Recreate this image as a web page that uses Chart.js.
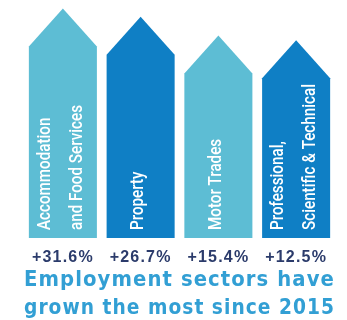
<!DOCTYPE html>
<html>
<head>
<meta charset="utf-8">
<title>Employment sectors</title>
<script src="https://cdn.jsdelivr.net/npm/chart.js@4/dist/chart.umd.min.js"></script>
<style>
  html, body { margin: 0; padding: 0; background: #ffffff; }
  canvas { display: block; }
</style>
</head>
<body>
<canvas id="chart" width="347" height="320"></canvas>
<script>
// Sector names (one entry per line of the label written up each arrow)
const sectors = [
  ['Accommodation', 'and Food Services'],
  ['Property'],
  ['Motor Trades'],
  ['Professional,', 'Scientific & Technical']
];
// Employment growth since 2015, per cent
const growth = [31.6, 26.7, 15.4, 12.5];
const titleLines = ['Employment sectors have', 'grown the most since 2015'];

const LIGHT = '#5dbdd4';
const DARK = '#0f7fc5';
const VALUE_COLOR = '#2b3b6b';
const TITLE_COLOR = '#329fd4';
const AXIS_FLOOR = -106.3;   // arrows rise from here on the (hidden) value axis
const AXIS_TOP = 36.7;
const HEAD = 38;             // height of each arrow head in pixels

// Draws every bar as an upward arrow and writes the sector name inside it
const arrowBars = {
  id: 'arrowBars',
  beforeDraw(chart) { chart.ctx.letterSpacing = '1.2px'; },
  afterDraw(chart) { chart.ctx.letterSpacing = '0px'; },
  beforeDatasetDraw() { return false; },
  afterDatasetsDraw(chart) {
    const ctx = chart.ctx;
    const meta = chart.getDatasetMeta(0);
    meta.data.forEach((el, i) => {
      const { x, y, base, width } = el.getProps(['x', 'y', 'base', 'width'], true);
      const left = x - width / 2;
      const right = x + width / 2;
      const shoulder = y + HEAD;
      ctx.save();
      ctx.letterSpacing = '0px';
      ctx.fillStyle = el.options.backgroundColor;
      ctx.beginPath();
      ctx.moveTo(left, base);
      ctx.lineTo(left, shoulder);
      ctx.lineTo(x, y);
      ctx.lineTo(right, shoulder);
      ctx.lineTo(right, base);
      ctx.closePath();
      ctx.fill();

      const lines = sectors[i];
      const gap = 32;
      ctx.fillStyle = '#ffffff';
      ctx.font = '500 19px Roboto, "Liberation Sans", sans-serif';
      ctx.textAlign = 'left';
      ctx.textBaseline = 'middle';
      lines.forEach((line, j) => {
        const offset = (j - (lines.length - 1) / 2) * gap - 2;
        ctx.save();
        ctx.translate(x + offset, base - 8);
        ctx.rotate(-Math.PI / 2);
        ctx.scale(0.8, 1);
        ctx.fillText(line, 0, 0);
        ctx.restore();
      });
      ctx.restore();
    });
  }
};

new Chart(document.getElementById('chart'), {
  type: 'bar',
  data: {
    labels: sectors,
    datasets: [{
      data: growth,
      backgroundColor: growth.map((_, i) => (i % 2 ? DARK : LIGHT)),
      base: AXIS_FLOOR,
      categoryPercentage: 0.875,
      barPercentage: 1
    }]
  },
  options: {
    responsive: false,
    animation: false,
    devicePixelRatio: 1,
    layout: { padding: { left: 24, right: 12, top: 0, bottom: -2 } },
    plugins: {
      legend: { display: false },
      tooltip: { enabled: false },
      title: {
        display: true,
        position: 'bottom',
        text: titleLines,
        color: TITLE_COLOR,
        font: { family: '"DejaVu Sans", sans-serif', weight: 'bold', size: 22, lineHeight: 1.25 },
        padding: { top: 0, bottom: 0 }
      }
    },
    scales: {
      x: {
        grid: { display: false, drawTicks: false },
        border: { display: false },
        afterFit: (scale) => { scale.height = 29; },
        ticks: {
          autoSkip: false,
          maxRotation: 0,
          padding: 12,
          color: VALUE_COLOR,
          font: { family: '"Liberation Sans", sans-serif', weight: 'bold', size: 16, lineHeight: 1 },
          callback: (value, index) => '+' + growth[index].toFixed(1) + '%'
        }
      },
      y: { display: false, min: AXIS_FLOOR, max: AXIS_TOP }
    }
  },
  plugins: [arrowBars]
});
</script>
</body>
</html>
